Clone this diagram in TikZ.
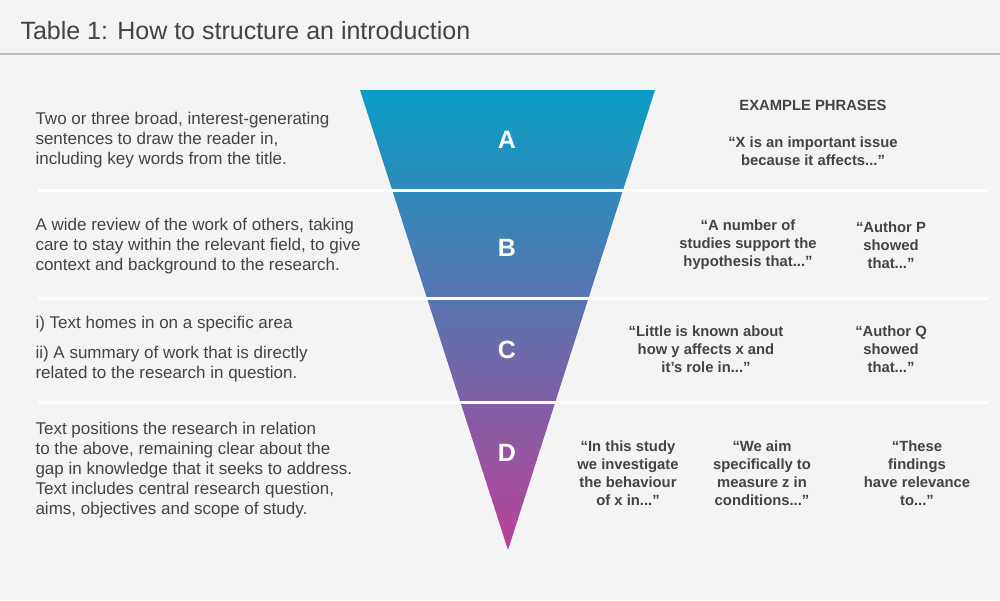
\documentclass[tikz,border=0pt]{standalone}
\usepackage{fontspec}
\setmainfont{Liberation Sans}
\begin{document}
\begin{tikzpicture}[x=1pt,y=-1pt,
  lt/.style={anchor=west,text=txt,font=\fontsize{17}{20}\selectfont,align=left},
  ph/.style={text=txt,font=\bfseries\fontsize{14.8}{18}\selectfont,align=center},
  lt2/.style={text=white,font=\bfseries\fontsize{25}{25}\selectfont},
  sep/.style={white,line width=3pt}]
\definecolor{txt}{HTML}{444444}
\definecolor{bg}{HTML}{F4F4F4}
\useasboundingbox (0,0) rectangle (1000,600);
\fill[bg] (0,0) rectangle (1000,600);
\draw[gray!50,line width=1.2pt] (0,54) -- (1000,54);
\node[anchor=west,text=txt,font=\fontsize{25}{28}\selectfont] (title) at (17,31) {Table 1: How to structure an introduction};
\shade[top color={rgb,255:red,8;green,158;blue,196}, middle color={rgb,255:red,88;green,112;blue,176}, bottom color={rgb,255:red,186;green,66;blue,152}] (360,90) -- (655,90) -- (508,550) -- cycle;
\coordinate (l1) at (38,190); \coordinate (r1) at (988,190);
\coordinate (l2) at (38,298); \coordinate (r2) at (988,298);
\coordinate (l3) at (38,402); \coordinate (r3) at (988,402);
\draw[sep] (l1) -- (r1); \draw[sep] (l2) -- (r2); \draw[sep] (l3) -- (r3);
\node[lt2] (A) at (507,140) {A};
\node[lt2] (B) at (507,248) {B};
\node[lt2] (C) at (507,350) {C};
\node[lt2] (D) at (507,453) {D};
\node[lt] (ta) at (32,140) {Two or three broad, interest-generating\\sentences to draw the reader in,\\including key words from the title.};
\node[lt] (tb) at (32,246) {A wide review of the work of others, taking\\care to stay within the relevant field, to give\\context and background to the research.};
\node[lt] (tc1) at (32,324) {i) Text homes in on a specific area};
\node[lt] (tc2) at (32,364) {ii) A summary of work that is directly\\related to the research in question.};
\node[lt] (td) at (32,470) {Text positions the research in relation\\to the above, remaining clear about the\\gap in knowledge that it seeks to address.\\Text includes central research question,\\aims, objectives and scope of study.};
\node[ph] (ex) at (813,105) {EXAMPLE PHRASES};
\node[ph] (pa) at (813,151) {“X is an important issue\\because it affects...”};
\node[ph] (pb1) at (748,245) {“A number of\\studies support the\\hypothesis that...”};
\node[ph] (pb2) at (891,245) {“Author P\\showed\\that...”};
\node[ph] (pc1) at (706,349) {“Little is known about\\how y affects x and\\it’s role in...”};
\node[ph] (pc2) at (891,349) {“Author Q\\showed\\that...”};
\node[ph] (pd1) at (628,473) {“In this study\\we investigate\\the behaviour\\of x in...”};
\node[ph] (pd2) at (762,473) {“We aim\\specifically to\\measure z in\\conditions...”};
\node[ph] (pd3) at (917,473) {“These\\findings\\have relevance\\to...”};
\end{tikzpicture}
\end{document}
